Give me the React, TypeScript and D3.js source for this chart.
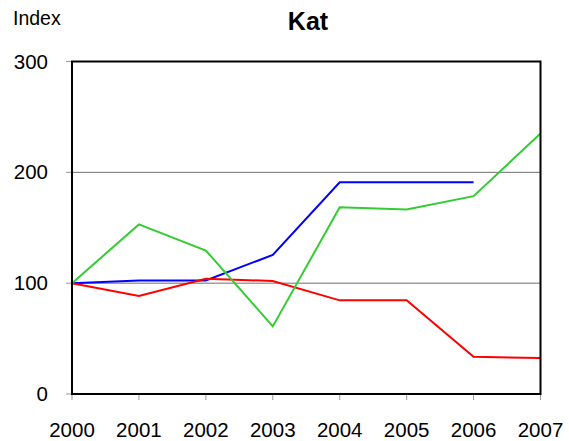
import React from "react";
import * as d3 from "d3";

const years = [2000, 2001, 2002, 2003, 2004, 2005, 2006, 2007];
const blueValues: (number | null)[] = [100, 102.5, 102.5, 125.5, 191, 191, 191, null];
const greenValues: (number | null)[] = [100, 153, 129.5, 61, 168.5, 166.5, 178.5, 235];
const redValues: (number | null)[] = [100, 88.5, 104, 102, 84.5, 84.5, 33.5, 32.5];
const yTicks = [0, 100, 200, 300];

const series = [
  { name: "blue", values: blueValues, color: "#0000FF" },
  { name: "red", values: redValues, color: "#FF0000" },
  { name: "green", values: greenValues, color: "#33CC33" },
];

const W = 569;
const H = 441;
const left = 72;
const right = 540.5;
const top = 61.5;
const bottom = 394;

export default function App() {
  const x = d3.scaleLinear().domain([2000, 2007]).range([left, right]);
  const y = d3.scaleLinear().domain([0, 300]).range([bottom, top]);
  const line = d3
    .line<number | null>()
    .defined((d) => d !== null)
    .x((_, i) => x(years[i]))
    .y((d) => y(d as number));
  const font = "'Liberation Sans', Arial, Helvetica, sans-serif";
  return (
    <svg
      width={W}
      height={H}
      style={{ position: "absolute", left: 0, top: 0, background: "#fff" }}
      fontFamily={font}
    >
      <text x={13} y={25} fontSize={19.5} fill="#000">
        Index
      </text>
      <text x={308} y={29.5} fontSize={25} fontWeight="bold" textAnchor="middle" fill="#000">
        Kat
      </text>
      {yTicks.map((t) => (
        <g key={t}>
          {t > 0 && t < 300 && (
            <line x1={left} x2={right} y1={y(t)} y2={y(t)} stroke="#6e6e6e" strokeWidth={1} />
          )}
          <line x1={66} x2={left} y1={y(t)} y2={y(t)} stroke="#999" strokeWidth={1} />
          <text x={48} y={y(t) + 7} fontSize={20.5} textAnchor="end" fill="#000">
            {t}
          </text>
        </g>
      ))}
      {years.map((yr) => (
        <g key={yr}>
          <line x1={x(yr)} x2={x(yr)} y1={bottom} y2={400} stroke="#999" strokeWidth={1} />
          <text x={x(yr)} y={436.5} fontSize={20.5} textAnchor="middle" fill="#000">
            {yr}
          </text>
        </g>
      ))}
      {series.map((s) => (
        <path key={s.name} d={line(s.values) || ""} fill="none" stroke={s.color} strokeWidth={2} />
      ))}
      <rect
        x={left}
        y={top}
        width={right - left}
        height={bottom - top}
        fill="none"
        stroke="#000"
        strokeWidth={2}
      />
    </svg>
  );
}
